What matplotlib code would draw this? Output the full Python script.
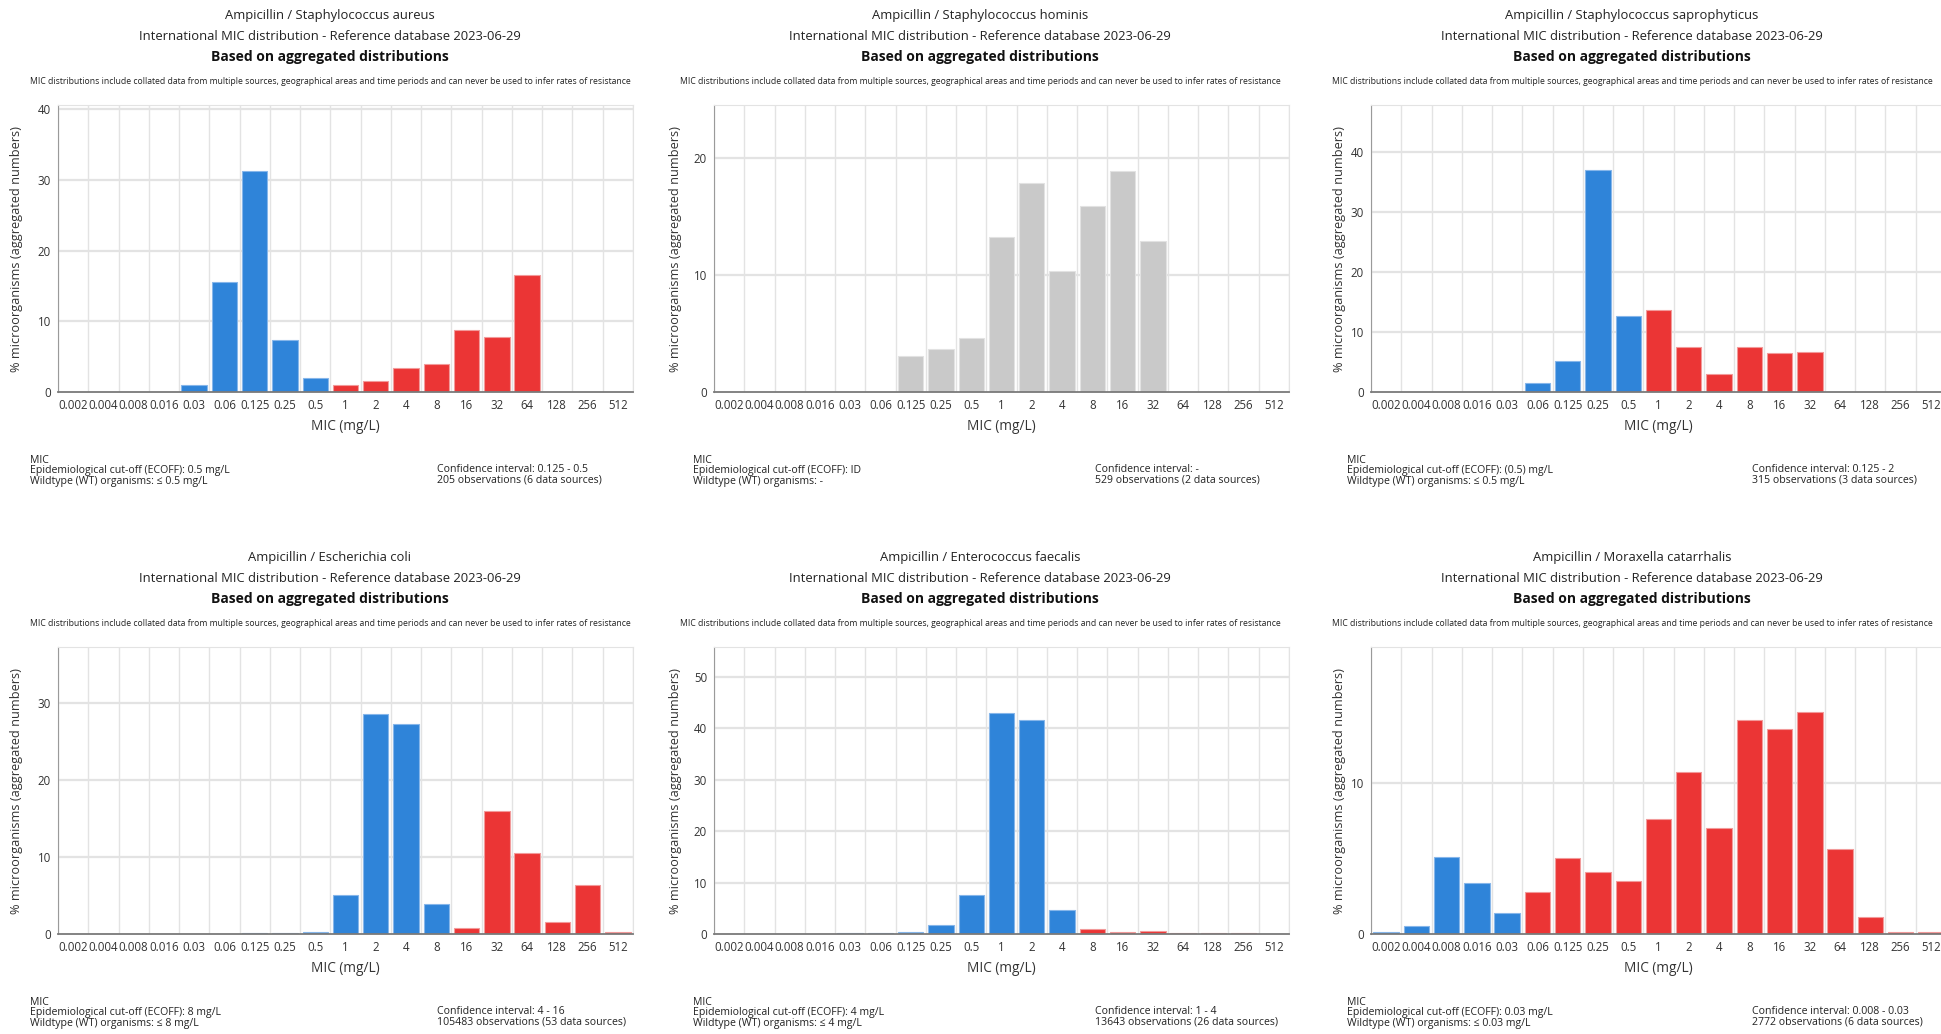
import matplotlib
matplotlib.use("Agg")
import matplotlib.pyplot as plt

plt.rcParams['font.family'] = ['Open Sans', 'DejaVu Sans']

# MIC classes (mg/L)
mic_labels = ["0.002", "0.004", "0.008", "0.016", "0.03", "0.06", "0.125", "0.25", "0.5",
              "1", "2", "4", "8", "16", "32", "64", "128", "256", "512"]

# % of isolates per MIC class
aureus = [0, 0, 0, 0, 1.0, 15.6, 31.2, 7.3, 2.0, 1.0, 1.5, 3.4, 3.9, 8.8, 7.8, 16.6, 0, 0, 0]
hominis = [0, 0, 0, 0, 0, 0, 3.1, 3.7, 4.6, 13.2, 17.8, 10.3, 15.9, 18.9, 12.9, 0, 0, 0, 0]
saprophyticus = [0, 0, 0, 0, 0, 1.5, 5.2, 37.0, 12.7, 13.7, 7.5, 3.0, 7.5, 6.5, 6.7, 0, 0, 0, 0]
ecoli = [0, 0, 0, 0, 0, 0, 0.17, 0.17, 0.26, 5.1, 28.6, 27.3, 3.9, 0.78, 16.0, 10.5, 1.5, 6.4, 0.26]
faecalis = [0, 0, 0, 0, 0.2, 0.2, 0.4, 1.7, 7.6, 43.0, 41.7, 4.6, 1.0, 0.4, 0.6, 0.15, 0.15, 0.15, 0]
catarrhalis = [0.13, 0.53, 5.1, 3.4, 1.4, 2.8, 5.0, 4.1, 3.5, 7.6, 10.75, 7.0, 14.2, 13.6, 14.7,
               5.6, 1.1, 0.12, 0.12]

organisms = ["Staphylococcus aureus", "Staphylococcus hominis", "Staphylococcus saprophyticus",
             "Escherichia coli", "Enterococcus faecalis", "Moraxella catarrhalis"]
series = [aureus, hominis, saprophyticus, ecoli, faecalis, catarrhalis]
ecoff_idx = [8, None, 8, 12, 11, 4]   # last wildtype class, None = no ECOFF (ID)
y_ticks = [[0, 10, 20, 30, 40], [0, 10, 20], [0, 10, 20, 30, 40],
           [0, 10, 20, 30], [0, 10, 20, 30, 40, 50], [0, 10]]
y_max = [40.6, 24.5, 47.8, 37.3, 55.8, 19.0]

ecoff_txt = ["0.5 mg/L", "ID", "(0.5) mg/L", "8 mg/L", "4 mg/L", "0.03 mg/L"]
wt_txt = ["≤ 0.5 mg/L", "-", "≤ 0.5 mg/L", "≤ 8 mg/L", "≤ 4 mg/L", "≤ 0.03 mg/L"]
ci_txt = ["0.125 - 0.5", "-", "0.125 - 2", "4 - 16", "1 - 4", "0.008 - 0.03"]
n_obs = ["205", "529", "315", "105483", "13643", "2772"]
n_src = ["6", "2", "3", "53", "26", "6"]

W, H = 1941, 1034
fig = plt.figure(figsize=(W / 100, H / 100), dpi=100)


def fx(x):
    return x / W


def fy(y):
    return 1 - y / H


# pixel layout
col_x = [(58, 633), (714, 1289), (1371, 1946)]
col_mid = [330, 980, 1632]
ylab_x = [17, 675, 1340]
foot_left = [30, 693, 1347]
foot_right = [437, 1095, 1752]
row_y = [(105, 392), (647, 934)]

BLUE, BLUE_E = "#2f84d9", "#86b6ea"
RED, RED_E = "#eb3535", "#f29a9a"
GREY, GREY_E = "#c9c9c9", "#e2e2e2"
TXT = "#222222"

for i, vals in enumerate(series):
    r, c = divmod(i, 3)
    x0, x1 = col_x[c]
    y0, y1 = row_y[r]
    ax = fig.add_axes([fx(x0), fy(y1), (x1 - x0) / W, (y1 - y0) / H])

    xs = [k for k, v in enumerate(vals) if v > 0]
    hs = [vals[k] for k in xs]
    if ecoff_idx[i] is None:
        fc = [GREY] * len(xs)
        ec = [GREY_E] * len(xs)
    else:
        fc = [BLUE if k <= ecoff_idx[i] else RED for k in xs]
        ec = [BLUE_E if k <= ecoff_idx[i] else RED_E for k in xs]
    ax.bar(xs, hs, width=0.84, color=fc, edgecolor=ec, linewidth=0.8, zorder=3)

    ax.set_xlim(-0.5, len(mic_labels) - 0.5)
    ax.set_ylim(0, y_max[i])
    ax.set_xticks(range(len(mic_labels)))
    ax.set_xticklabels(mic_labels, fontsize=8.3, color="#333333")
    ax.set_yticks(y_ticks[i])
    ax.set_yticklabels([str(t) for t in y_ticks[i]], fontsize=8.3, color="#333333")
    ax.tick_params(length=0, pad=5)

    for b in range(len(mic_labels) + 1):
        ax.axvline(b - 0.5, color="#e3e3e3", lw=1.0, zorder=1)
    for t in y_ticks[i][1:]:
        ax.axhline(t, color="#e3e3e3", lw=1.6, zorder=1)

    for s in ["top", "right"]:
        ax.spines[s].set_color("#e3e3e3")
    ax.spines["left"].set_color("#9a9a9a")
    ax.spines["bottom"].set_color("#7a7a7a")
    ax.spines["bottom"].set_linewidth(1.3)
    ax.spines["bottom"].set_zorder(4)

    # titles
    fig.text(fx(col_mid[c]), fy(y0 - 89), "Ampicillin / " + organisms[i],
             ha="center", va="center", fontsize=9.4, color=TXT)
    fig.text(fx(col_mid[c]), fy(y0 - 68), "International MIC distribution - Reference database 2023-06-29",
             ha="center", va="center", fontsize=9.4, color=TXT)
    fig.text(fx(col_mid[c]), fy(y0 - 48), "Based on aggregated distributions",
             ha="center", va="center", fontsize=10.0, fontweight="bold", color="#111111")
    fig.text(fx(col_mid[c]), fy(y0 - 23),
             "MIC distributions include collated data from multiple sources, geographical areas and "
             "time periods and can never be used to infer rates of resistance",
             ha="center", va="center", fontsize=6.2, color=TXT)

    # axis labels
    fig.text(fx(ylab_x[c]), fy((y0 + y1) / 2), "% microorganisms (aggregated numbers)",
             rotation=90, ha="center", va="center", fontsize=9.2, color="#333333")
    fig.text(fx((x0 + x1) / 2), fy(y1 + 34), "MIC (mg/L)",
             ha="center", va="center", fontsize=9.8, color="#333333")

    # footer
    fig.text(fx(foot_left[c]), fy(y1 + 63),
             "MIC\nEpidemiological cut-off (ECOFF): " + ecoff_txt[i]
             + "\nWildtype (WT) organisms: " + wt_txt[i],
             ha="left", va="top", fontsize=7.6, linespacing=0.92, color=TXT)
    fig.text(fx(foot_right[c]), fy(y1 + 72),
             "Confidence interval: " + ci_txt[i]
             + "\n" + n_obs[i] + " observations (" + n_src[i] + " data sources)",
             ha="left", va="top", fontsize=7.6, linespacing=0.92, color=TXT)

fig.savefig("out.png", dpi=100, facecolor="white")
